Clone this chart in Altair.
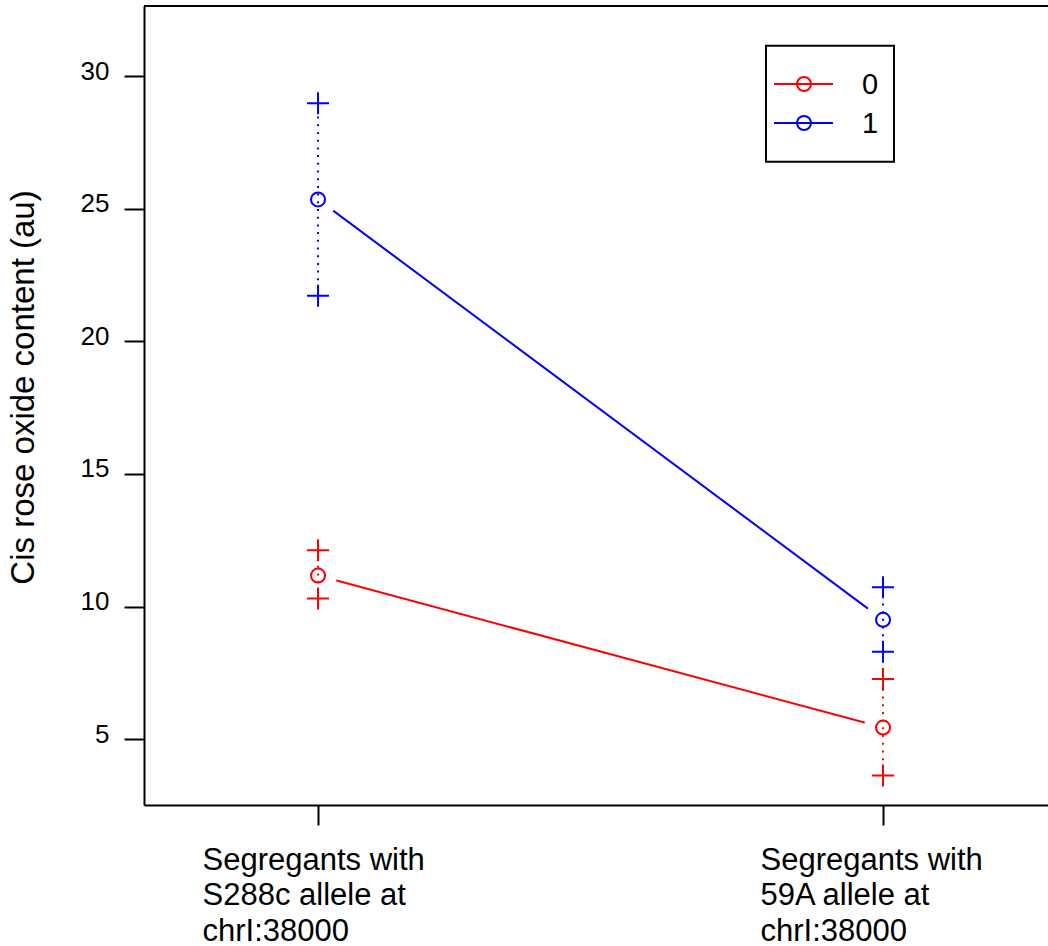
import json

import altair as alt
import pandas as pd

# Allele-group means with their spread (upper / lower marks)
groups = ["0", "1"]
group_colors = ["#FF0000", "#0000FF"]
positions = [1, 2]
x_labels = [
    ["Segregants with", "S288c allele at", "chrI:38000"],
    ["Segregants with", "59A allele at", "chrI:38000"],
]
mean_0 = [11.17, 5.44]
upper_0 = [12.12, 7.27]
lower_0 = [10.30, 3.63]
mean_1 = [25.35, 9.50]
upper_1 = [28.97, 10.73]
lower_1 = [21.72, 8.30]
y_ticks = [5, 10, 15, 20, 25, 30]
y_title = "Cis rose oxide content (au)"

FONT = "Liberation Sans"

series = {
    "0": (mean_0, upper_0, lower_0),
    "1": (mean_1, upper_1, lower_1),
}
rows = []
for g in groups:
    m, hi, lo = series[g]
    for i, p in enumerate(positions):
        rows.append({"group": g, "pos": p, "mean": m[i], "hi": hi[i], "lo": lo[i]})
df = pd.DataFrame(rows)

W, H = 904, 799

label_expr = "datum.value == 1 ? {} : {}".format(json.dumps(x_labels[0]), json.dumps(x_labels[1]))

x_scale = alt.Scale(domain=[0.692, 2.292], nice=False, zero=False)
y_scale = alt.Scale(domain=[2.52, 32.64], nice=False, zero=False)

x_axis = alt.Axis(
    values=positions, labelExpr=label_expr, grid=False,
    tickSize=20, tickWidth=2, tickColor="black",
    domainWidth=2, domainColor="black",
    labelColor="black", labelFont=FONT, labelFontSize=31,
    labelAlign="left",
    labelOffset={"condition": {"test": "datum.value == 2", "value": -123}, "value": -116},
    labelBaseline="top",
    labelLineHeight=35.5, labelPadding=20, labelOverlap=False, labelFlush=False,
    labelLimit=600,
)
y_axis = alt.Axis(
    values=y_ticks, grid=False,
    tickSize=20, tickWidth=2, tickColor="black",
    domainWidth=2, domainColor="black",
    labelColor="black", labelFont=FONT, labelFontSize=26,
    labelPadding=15, labelBaseline="alphabetic", labelOffset=3,
    title=y_title, titleFont=FONT, titleFontSize=33, titleFontWeight="normal",
    titleColor="black", titleAngle=270, titleX=-111, titleY=381,
    titleAlign="center", titleBaseline="alphabetic", titleLimit=900,
)

X = alt.X("pos:Q", scale=x_scale, axis=x_axis, title=None)
color = alt.Color("group:N", scale=alt.Scale(domain=groups, range=group_colors), legend=None)


def Y(field):
    return alt.Y(f"{field}:Q", scale=y_scale, axis=y_axis, title=y_title)


base = alt.Chart(df)

lines = base.mark_line(strokeWidth=2).encode(x=X, y=Y("mean"), color=color, detail="group:N")

# white halo keeps the connecting line clear of each mean marker
halo = base.mark_point(shape="circle", filled=True, opacity=1, size=1444).encode(
    x=X, y=Y("mean"), color=alt.value("white")
)

spread = base.mark_rule(strokeWidth=2, strokeDash=[2, 5.7]).encode(
    x=X, y=Y("lo"), y2="hi:Q", color=color
)

means = base.mark_point(shape="circle", filled=False, size=196, strokeWidth=2, opacity=1).encode(
    x=X, y=Y("mean"), color=color
)

ends = base.transform_fold(["lo", "hi"], as_=["end", "value"]).mark_point(
    shape="M-1,0H1M0,-1V1", filled=False, size=484, strokeWidth=2, opacity=1
).encode(x=X, y=Y("value"), color=color)

one = alt.Chart(pd.DataFrame({"k": [0]}))

top_border = one.mark_rule(color="black", strokeWidth=2).encode(
    x=alt.value(0), x2=alt.value(W), y=alt.value(0)
)

# legend box with one line+circle key per group
legend_layers = [
    one.mark_rect(fillOpacity=0, stroke="black", strokeWidth=2).encode(
        x=alt.value(622), x2=alt.value(750), y=alt.value(39.7), y2=alt.value(155.7)
    )
]
for i, g in enumerate(groups):
    yy = 78 + 39 * i
    c = group_colors[i]
    legend_layers.append(
        one.mark_rule(color=c, strokeWidth=2).encode(x=alt.value(630), x2=alt.value(689), y=alt.value(yy))
    )
    legend_layers.append(
        one.mark_point(shape="circle", filled=False, size=196, strokeWidth=2, color=c, opacity=1).encode(
            x=alt.value(660), y=alt.value(yy)
        )
    )
    legend_layers.append(
        one.mark_text(text=g, font=FONT, fontSize=29, color="black", align="center", baseline="middle").encode(
            x=alt.value(726), y=alt.value(yy + 1)
        )
    )

chart = alt.layer(lines, halo, spread, means, ends, top_border, *legend_layers).properties(
    width=W,
    height=H,
    padding={"left": 144, "top": 6, "right": 0, "bottom": 141},
    autosize=alt.AutoSizeParams(type="none"),
    background="white",
).configure_view(strokeWidth=0)

chart.save("out.html", embed_options={"renderer": "svg", "actions": False})
